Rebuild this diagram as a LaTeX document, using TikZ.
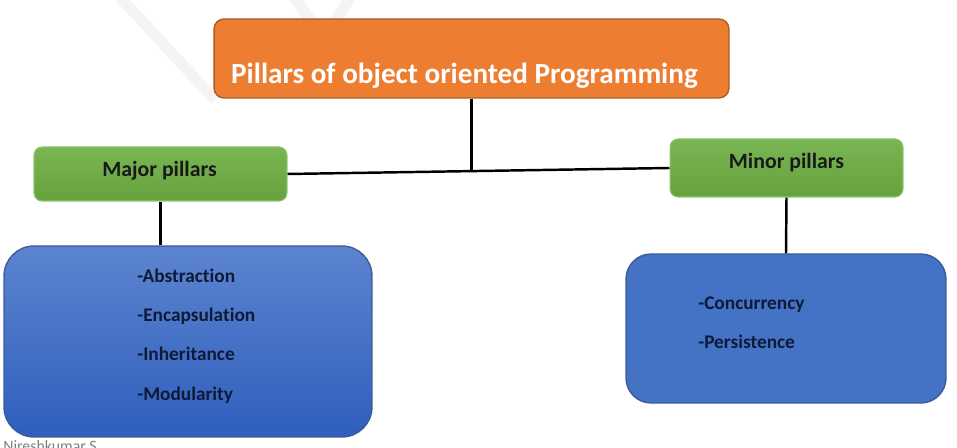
\documentclass[tikz,border=0pt]{standalone}
\usepackage{fontspec}
\setmainfont{Carlito}[Ligatures=NoCommon]
\usetikzlibrary{positioning, calc}
\definecolor{titlefill}{HTML}{ED7D31}
\definecolor{titleline}{HTML}{AE5A21}
\definecolor{greentop}{HTML}{79B653}
\definecolor{greenbot}{HTML}{66A33F}
\definecolor{greenline}{HTML}{8DC46C}
\definecolor{bluetop}{HTML}{5C84CF}
\definecolor{bluebot}{HTML}{2F5EBD}
\definecolor{blueflat}{HTML}{4472C4}
\definecolor{blueline}{HTML}{3A5C98}
\definecolor{itemtext}{HTML}{0E1A36}
\definecolor{wmark}{HTML}{F4F4F4}
\tikzset{
    titlebox/.style={rectangle, rounded corners=0.2cm, draw=titleline, fill=titlefill, line width=0.8pt, minimum width=10.3cm, minimum height=1.58cm},
    pillarbox/.style={rectangle, rounded corners=0.16cm, draw=greenline, top color=greentop, bottom color=greenbot, line width=0.6pt},
    listbox/.style={rectangle, draw=blueline, line width=0.8pt},
    titletext/.style={font=\fontsize{16.6}{19}\selectfont\bfseries, text=white, inner sep=0pt},
    pillartext/.style={font=\fontsize{12.4}{14}\selectfont\bfseries, text=black!90, inner sep=0pt},
    itemlist/.style={font=\fontsize{11}{22.3}\selectfont\bfseries, text=itemtext, align=left, inner sep=0pt},
    link/.style={line width=1.4pt, black}
}

\begin{document}
\begin{tikzpicture}[x=0.02cm, y=-0.02cm]

    \useasboundingbox (0,0) rectangle (957,448);

    % faint watermark
    \draw [wmark, line width=0.22cm] (118,-5) -- (215,100);
    \draw [wmark, line width=0.22cm] (292,-5) -- (324,38) -- (352,-5);

    \node (title) [titlebox] at (471.5,58.5) {};
    \node (titlelbl) [titletext, anchor=base] at (464.5,84) {Pillars of object oriented Programming};

    \node (major) [pillarbox, minimum width=5.06cm, minimum height=1.08cm] at (160.5,174) {};
    \node (majorlbl) [pillartext, anchor=base] at (159.5,177) {Major pillars};
    \node (minor) [pillarbox, minimum width=4.66cm, minimum height=1.16cm] at (786.5,168) {};
    \node (minorlbl) [pillartext, anchor=base] at (786.5,169) {Minor pillars};

    \node (majorlist) [listbox, rounded corners=0.6cm, top color=bluetop, bottom color=bluebot, minimum width=7.36cm, minimum height=3.82cm] at (188,341.5) {};
    \node (majoritems) [itemlist, anchor=west] at (137,336) {-Abstraction\\-Encapsulation\\-Inheritance\\-Modularity};
    \node (minorlist) [listbox, rounded corners=0.5cm, fill=blueflat, minimum width=6.4cm, minimum height=2.98cm] at (786,328.5) {};
    \node (minoritems) [itemlist, anchor=west] at (698,322.5) {-Concurrency\\-Persistence};

    \coordinate (junc) at ($(major.east)!0.486!(minor.west)$);

    \draw [link] (major.east) -- (minor.west);
    \draw [link] (title.south) -- (title.south |- junc);
    \draw [link] (major.south) -- (major.south |- majorlist.north);
    \draw [link] (minor.south) -- (minorlist.north);

    \node (author) [font=\fontsize{9}{11}\selectfont, text=black!50, anchor=base west, inner sep=0pt] at (3,452) {Nireshkumar S};

\end{tikzpicture}
\end{document}
